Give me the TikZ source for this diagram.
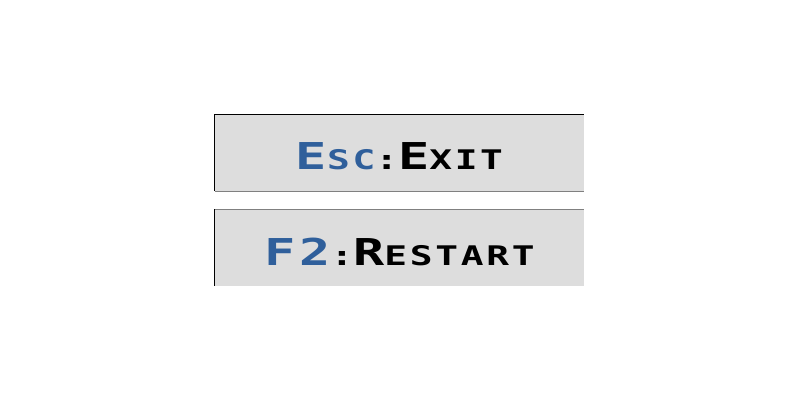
\documentclass[tikz,border=0pt]{standalone}
\usepackage{fontspec}
\newfontfamily\pixelfont{DejaVu Sans Mono}[LetterSpace=10,FakeStretch=1.4]
\definecolor{keyblue}{RGB}{47,95,155}
\definecolor{keyfill}{RGB}{221,221,221}
\definecolor{edgegray}{RGB}{128,128,128}
\newcommand\capbig[1]{{\fontsize{37}{40}\selectfont #1}}
\newcommand\capsmall[1]{{\fontsize{27}{30}\selectfont #1}}

\begin{document}
\begin{tikzpicture}[
		keybox/.style={rectangle, fill=keyfill, minimum width=369pt, minimum height=76pt, inner sep=0pt},
		keytext/.style={inner sep=0pt, anchor=base, font=\pixelfont\bfseries},
		topline/.style={line width=1pt, black},
		lowline/.style={line width=1pt, edgegray}]
		\useasboundingbox (0,0) rectangle (800pt,400pt);
		\node[keybox] (esc) at (399.5pt,247pt) {};
		\node[keybox] (f2) at (399.5pt,152.5pt) {};
		\node[keytext] (esclabel) at ([yshift=-16pt]esc.center)
			{\textcolor{keyblue}{\capbig{E}\capsmall{SC}}\capsmall{:}\capbig{E}\capsmall{XIT}};
		\node[keytext] (f2label) at ([yshift=-17.5pt]f2.center)
			{\textcolor{keyblue}{\capbig{F2}}\capsmall{:}\capbig{R}\capsmall{ESTART}};
		% borders of the two keys
		\draw[topline] (esc.south west) |- (esc.north east);
		\draw[lowline] (esc.south west) -- (esc.south east);
		\draw[lowline] (f2.north west) -- (f2.north east);
		\draw[topline] (f2.north west) -- (f2.south west);
	\end{tikzpicture}
\end{document}
